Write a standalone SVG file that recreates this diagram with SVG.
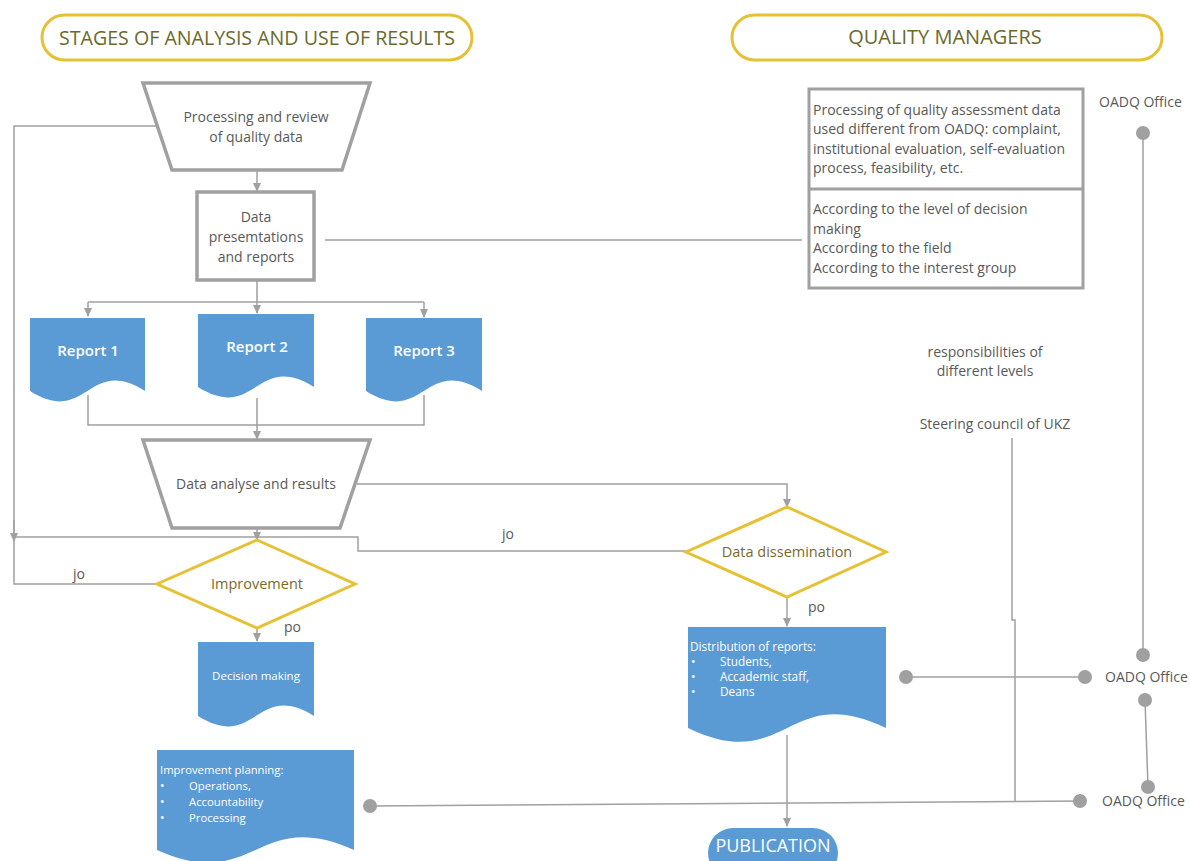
<svg xmlns="http://www.w3.org/2000/svg" width="1190" height="861" viewBox="0 0 1190 861">
<style>
.hdr{fill:#fff;stroke:#e5c135;stroke-width:3}
.hdrt{font-family:"Open Sans","Liberation Sans",sans-serif;font-size:20px;fill:#6a6a2c;text-anchor:middle}
.gbox{fill:#fff;stroke:#a0a0a0;stroke-width:3.5}
.qbox{fill:#fff;stroke:#a0a0a0;stroke-width:3}
.t{font-family:"Open Sans","Liberation Sans",sans-serif;font-size:14px;fill:#595959}
.tc{text-anchor:middle}
.doc{fill:#5b9bd5}
.wt{font-family:"Open Sans","Liberation Sans",sans-serif;fill:#fff}
.dia{fill:#fff;stroke:#e5c135;stroke-width:3}
.dt{font-family:"Open Sans","Liberation Sans",sans-serif;font-size:14.5px;fill:#7a6a2a;text-anchor:middle}
.ln{fill:none;stroke:#a0a0a0;stroke-width:1.5}
.ar{fill:none;stroke:#a0a0a0;stroke-width:1.5;marker-end:url(#ah)}
.dot{fill:#a0a0a0}
</style>
<defs>
<marker id="ah" markerUnits="userSpaceOnUse" markerWidth="10" markerHeight="10" refX="8" refY="5" orient="auto">
<path d="M0,1 L9,5 L0,9 Z" fill="#a0a0a0"/>
</marker>
</defs>
<rect width="1190" height="861" fill="#fff"/>

<g id="connectors">
<path class="ln" d="M157,126 H14 V584 H157"/>
<path class="ar" d="M14,520 V541"/>
<path class="ar" d="M257,170 V191"/>
<path class="ln" d="M325,240 H802"/>
<path class="ln" d="M257,280 V302 M88,302 H424"/>
<path class="ar" d="M88,302 V316"/>
<path class="ar" d="M257,302 V313"/>
<path class="ar" d="M424,302 V317"/>
<path class="ln" d="M88,395 V425 H424 V395 M257,398 V425"/>
<path class="ar" d="M257,425 V439"/>
<path class="ar" d="M257,528 V540"/>
<path class="ln" d="M14,537 H358 V551 H686"/>
<path class="ar" d="M357,484 H787 V507"/>
<path class="ar" d="M787,597 V626"/>
<path class="ar" d="M257,628 V641"/>
<path class="ar" d="M787,735 V826"/>
<path class="ln" d="M370,806 L1080,801"/>
<path class="ln" d="M1012,438 V620 H1015 V801"/>
<path class="ln" d="M906,677 H1085"/>
<path class="ln" d="M1143,133 V655"/>
<path class="ln" d="M1145,700 L1148,787"/>
<circle class="dot" cx="1143" cy="133" r="7"/>
<circle class="dot" cx="1143" cy="655" r="7"/>
<circle class="dot" cx="906" cy="677" r="7"/>
<circle class="dot" cx="1085" cy="677" r="7"/>
<circle class="dot" cx="1145" cy="700" r="7"/>
<circle class="dot" cx="1148" cy="787" r="7"/>
<circle class="dot" cx="1080" cy="801" r="7"/>
<circle class="dot" cx="370" cy="806" r="7"/>
</g>

<g id="hdr-stages">
<rect class="hdr" x="42" y="15" width="430" height="45" rx="22.5"/>
<text class="hdrt" x="257" y="45" textLength="396" lengthAdjust="spacingAndGlyphs">STAGES OF ANALYSIS AND USE OF RESULTS</text>
</g>
<g id="hdr-managers">
<rect class="hdr" x="732" y="15" width="430" height="45" rx="22.5"/>
<text class="hdrt" x="945" y="44">QUALITY MANAGERS</text>
</g>

<g id="processing">
<path class="gbox" d="M143,83 H370 L342,170 H172 Z"/>
<text class="t tc" x="256" y="122">Processing and review</text>
<text class="t tc" x="256" y="142">of quality data</text>
</g>

<g id="presentations">
<rect class="gbox" x="197" y="192" width="117" height="88"/>
<text class="t tc" x="256" y="222">Data</text>
<text class="t tc" x="256" y="242">presemtations</text>
<text class="t tc" x="256" y="262">and reports</text>
</g>

<g id="report1">
<path class="doc" d="M30,318 H145 V391 C87.5,355 87.5,427 30,391 Z"/>
<text class="wt tc" x="88" y="356" font-size="15" font-weight="600">Report 1</text>
</g>
<g id="report2">
<path class="doc" d="M198,314 H314 V387 C256,351 256,423 198,387 Z"/>
<text class="wt tc" x="257" y="352" font-size="15" font-weight="600">Report 2</text>
</g>
<g id="report3">
<path class="doc" d="M366,318 H482 V391 C424,355 424,427 366,391 Z"/>
<text class="wt tc" x="424" y="356" font-size="15" font-weight="600">Report 3</text>
</g>

<g id="analyse">
<path class="gbox" d="M143,440 H370 L340,528 H172 Z"/>
<text class="t tc" x="256" y="489">Data analyse and results</text>
</g>

<g id="improvement">
<path class="dia" d="M257,540 L355,584 L257,628 L157,584 Z"/>
<text class="dt" x="257" y="589">Improvement</text>
</g>

<g id="dissemination">
<path class="dia" d="M787,507 L886,552 L787,597 L686,552 Z"/>
<text class="dt" x="787" y="557">Data dissemination</text>
</g>

<g id="labels">
<text class="t" x="502" y="539">jo</text>
<text class="t" x="73" y="579">jo</text>
<text class="t" x="284" y="632">po</text>
<text class="t" x="808" y="612">po</text>
<text class="t tc" x="985" y="357">responsibilities of</text>
<text class="t tc" x="985" y="376">different levels</text>
<text class="t tc" x="995" y="429">Steering council of UKZ</text>
<text class="t" x="1099" y="107">OADQ Office</text>
<text class="t" x="1105" y="682">OADQ Office</text>
<text class="t" x="1102" y="806">OADQ Office</text>
</g>

<g id="decision">
<path class="doc" d="M198,642 H314 V716 C256,680 256,752 198,716 Z"/>
<text class="wt tc" x="256" y="680" font-size="11.5">Decision making</text>
</g>

<g id="planning">
<path class="doc" d="M157,750 H354 V850 C255.5,806 255.5,894 157,850 Z"/>
<text class="wt" x="160" y="774" font-size="11.3">Improvement planning:</text>
<text class="wt" x="160" y="790" font-size="12">•</text>
<text class="wt" x="189" y="790" font-size="11.3">Operations,</text>
<text class="wt" x="160" y="806" font-size="12">•</text>
<text class="wt" x="189" y="806" font-size="11.3">Accountability</text>
<text class="wt" x="160" y="822" font-size="12">•</text>
<text class="wt" x="189" y="822" font-size="11.3">Processing</text>
</g>

<g id="distribution">
<path class="doc" d="M688,627 H886 V728 C787,680 787,776 688,728 Z"/>
<text class="wt" x="690" y="651" font-size="11.8">Distribution of reports:</text>
<text class="wt" x="691" y="666" font-size="12">•</text>
<text class="wt" x="720" y="666" font-size="11.8">Students,</text>
<text class="wt" x="691" y="681" font-size="12">•</text>
<text class="wt" x="720" y="681" font-size="11.8">Accademic staff,</text>
<text class="wt" x="691" y="696" font-size="12">•</text>
<text class="wt" x="720" y="696" font-size="11.8">Deans</text>
</g>

<g id="publication">
<rect class="doc" x="708" y="828" width="130" height="50" rx="25"/>
<text class="wt tc" x="773" y="852" font-size="18">PUBLICATION</text>
</g>

<g id="quality-box">
<rect class="qbox" x="809" y="89" width="274" height="199"/>
<line x1="809" y1="189" x2="1083" y2="189" stroke="#a0a0a0" stroke-width="3"/>
<text class="t" x="813" y="115">Processing of quality assessment data</text>
<text class="t" x="813" y="134">used different from OADQ: complaint,</text>
<text class="t" x="813" y="154">institutional evaluation, self-evaluation</text>
<text class="t" x="813" y="173">process, feasibility, etc.</text>
<text class="t" x="813" y="214">According to the level of decision</text>
<text class="t" x="813" y="234">making</text>
<text class="t" x="813" y="253">According to the field</text>
<text class="t" x="813" y="273">According to the interest group</text>
</g>
</svg>
